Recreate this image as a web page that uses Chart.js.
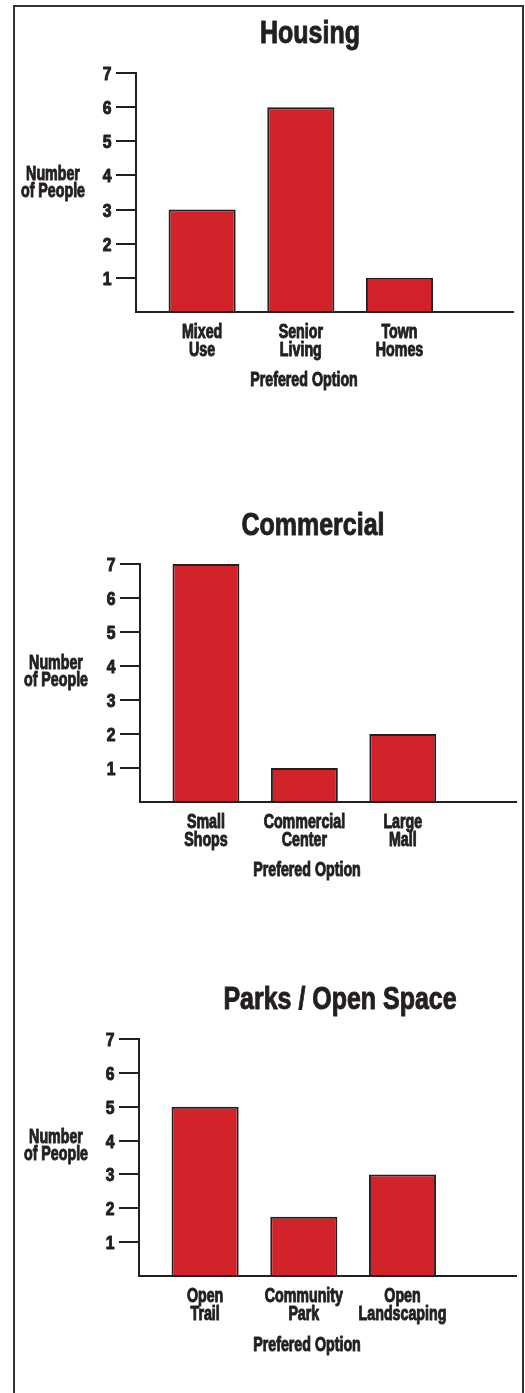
<!DOCTYPE html>
<html>
<head>
<meta charset="utf-8">
<title>Prefered Options</title>
<script src="https://cdn.jsdelivr.net/npm/chart.js@4.4.1/dist/chart.umd.min.js"></script>
<style>
  html, body { margin: 0; padding: 0; background: #fff; }
  body { width: 525px; height: 1393px; position: relative; overflow: hidden; }
  .frame { position: absolute; left: 13px; top: 5px; width: 507px; height: 1400px; border: 2px solid #333; border-bottom: none; }
  .panel { position: absolute; left: 0; width: 525px; }
</style>
</head>
<body>
<div class="frame"></div>
<div class="panel" id="p-housing"><canvas id="chart-housing"></canvas></div>
<div class="panel" id="p-commercial"><canvas id="chart-commercial"></canvas></div>
<div class="panel" id="p-parks"><canvas id="chart-parks"></canvas></div>
<script>
const housingLabels = [['Mixed', 'Use'], ['Senior', 'Living'], ['Town', 'Homes']];
const housingValues = [3, 6, 1];

const commercialLabels = [['Small', 'Shops'], ['Commercial', 'Center'], ['Large', 'Mall']];
const commercialValues = [7, 1, 2];

const parksLabels = [['Open', 'Trail'], ['Community', 'Park'], ['Open', 'Landscaping']];
const parksValues = [5, 1.75, 3];

const yMax = 7;
const yTitle = ['Number', 'of People'];
const xTitle = 'Prefered Option';

const FONT = "'Liberation Sans', Arial, sans-serif";
const INK = '#231f20';
const RED = '#d2232a';

// the original uses a heavy condensed face: size + horizontal squeeze
const TITLE_TXT = { size: 32, squeeze: 0.78 };
const LABEL_TXT = { size: 19.5, squeeze: 0.73 };
const TICK_TXT = { size: 18.5, squeeze: 0.85 };

// page geometry of each panel (chart area + text anchors)
const panels = [
  { id: 'housing', title: 'Housing', labels: housingLabels, values: housingValues,
    area: { left: 136, right: 513, top: 73, bottom: 312 },
    titleX: 310, titleBase: 43, yTitleX: 53, yTitleBase: [180, 197], xTitleX: 304, xTitleBase: 386 },
  { id: 'commercial', title: 'Commercial', labels: commercialLabels, values: commercialValues,
    area: { left: 140, right: 516, top: 564, bottom: 802 },
    titleX: 313, titleBase: 535, yTitleX: 56, yTitleBase: [669, 686], xTitleX: 307, xTitleBase: 876 },
  { id: 'parks', title: 'Parks / Open Space', labels: parksLabels, values: parksValues,
    area: { left: 139, right: 516, top: 1039, bottom: 1276 },
    titleX: 340, titleBase: 1009, yTitleX: 56, yTitleBase: [1143, 1160], xTitleX: 307, xTitleBase: 1351 },
];

const HEAD = 70;   // canvas space above chart area
const FOOT = 90;   // canvas space below chart area

function squeezedText(ctx, style, text, x, y, align) {
  ctx.save();
  ctx.font = `bold ${style.size}px ${FONT}`;
  ctx.translate(x, y);
  ctx.scale(style.squeeze, 1);
  ctx.textAlign = align;
  ctx.strokeText(text, 0, 0);
  ctx.fillText(text, 0, 0);
  ctx.restore();
}

// all text is drawn here so it can be condensed like the original
const panelText = {
  id: 'panelText',
  afterDraw(chart, args, opts) {
    const { ctx, chartArea } = chart;
    const { x, y } = chart.scales;
    const off = opts.offsetTop;
    ctx.save();
    ctx.fillStyle = INK;
    ctx.strokeStyle = INK;
    ctx.lineWidth = 1;
    ctx.lineJoin = 'round';
    ctx.textBaseline = 'alphabetic';

    squeezedText(ctx, TITLE_TXT, opts.title, opts.titleX, opts.titleBase - off, 'center');

    yTitle.forEach((line, i) => squeezedText(ctx, LABEL_TXT, line, opts.yTitleX, opts.yTitleBase[i] - off, 'center'));
    squeezedText(ctx, LABEL_TXT, xTitle, opts.xTitleX, opts.xTitleBase - off, 'center');

    y.ticks.forEach(t => {
      if (t.value === 0) return;
      squeezedText(ctx, TICK_TXT, String(t.value), chartArea.left - 24.5, y.getPixelForValue(t.value) + 7, 'right');
    });
    opts.labels.forEach((lines, i) => {
      const cx = x.getPixelForValue(i);
      lines.forEach((line, j) => squeezedText(ctx, LABEL_TXT, line, cx, chartArea.bottom + 26 + j * 17.5, 'center'));
    });
    ctx.restore();
  }
};

panels.forEach(p => {
  const top = p.area.top - HEAD;
  const height = p.area.bottom + FOOT - top;
  const box = document.getElementById('p-' + p.id);
  box.style.top = top + 'px';
  box.style.height = height + 'px';

  new Chart(document.getElementById('chart-' + p.id), {
    type: 'bar',
    data: {
      datasets: [{
        data: p.values.map((v, i) => ({ x: i, y: v })),
        backgroundColor: RED,
        borderColor: INK,
        borderWidth: 2,
        barPercentage: 0.68,
        categoryPercentage: 1,
      }],
    },
    options: {
      responsive: true,
      maintainAspectRatio: false,
      animation: false,
      layout: { padding: { top: HEAD, left: 0, right: 525 - p.area.right, bottom: 0 } },
      plugins: {
        legend: { display: false },
        tooltip: { enabled: false },
        panelText: { offsetTop: top, title: p.title, titleX: p.titleX, titleBase: p.titleBase,
          yTitleX: p.yTitleX, yTitleBase: p.yTitleBase, xTitleX: p.xTitleX, xTitleBase: p.xTitleBase,
          labels: p.labels },
      },
      scales: {
        x: {
          type: 'linear',
          offset: false,
          min: -0.67,
          max: 3.15,
          afterBuildTicks: axis => { axis.ticks = p.labels.map((_, i) => ({ value: i })); },
          afterFit: s => { s.height = FOOT; },
          grid: { display: false, drawTicks: false },
          border: { display: true, color: INK, width: 2, z: 1 },
          ticks: { display: false, autoSkip: false, maxRotation: 0 },
        },
        y: {
          min: 0,
          max: yMax,
          afterFit: s => { s.width = p.area.left; },
          grid: {
            drawOnChartArea: false,
            drawTicks: true,
            tickLength: 20,
            lineWidth: 2,
            tickColor: c => (c.tick && c.tick.value === 0 ? 'rgba(0,0,0,0)' : INK),
          },
          border: { display: true, color: INK, width: 2, z: 1 },
          ticks: { display: false, stepSize: 1 },
        },
      },
    },
    plugins: [panelText],
  });
});
</script>
</body>
</html>
